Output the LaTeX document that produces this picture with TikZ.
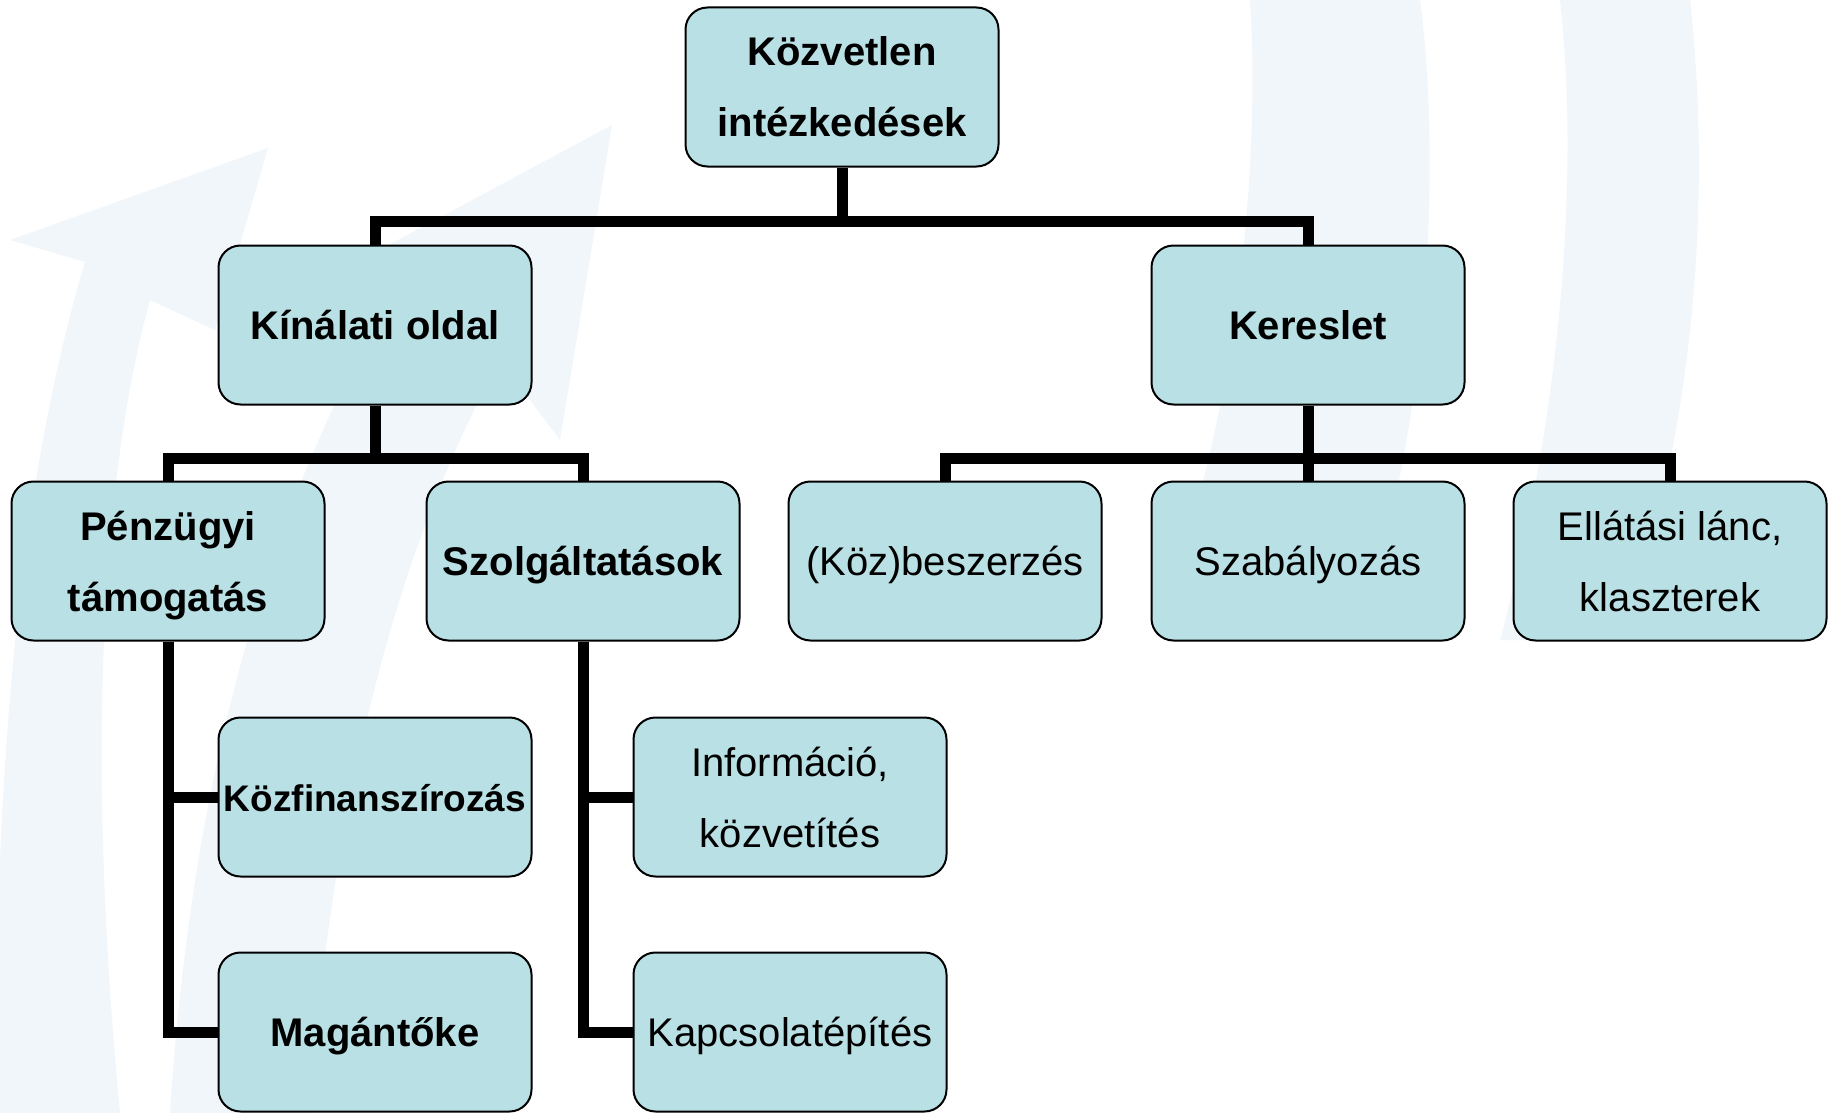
\documentclass[tikz,border=0pt]{standalone}
\usepackage{fontspec}
\setmainfont{Liberation Sans}
\definecolor{boxfill}{RGB}{185,224,228}
\definecolor{wm}{RGB}{241,246,251}
\begin{document}
\begin{tikzpicture}[x=1pt,y=-1pt,
  box/.style={draw=black, line width=2pt, fill=boxfill, rounded corners=22pt,
    minimum width=313pt, minimum height=159pt, inner sep=0pt, align=center,
    font=\fontsize{40}{71}\selectfont},
  bf/.style={font=\fontsize{40}{71}\selectfont\bfseries},
  one/.style={text height=28pt, text depth=0pt},
  two/.style={text height=100pt, text depth=0pt},
  conn/.style={line width=11pt, line join=miter}]
\fill[white] (0,0) rectangle (1833,1113);
\useasboundingbox (0,0) rectangle (1833,1113);
% faint background watermark arrows
\fill[wm] (-5,1113) .. controls (-5,760) and (20,480) .. (85,262) -- (10,240) -- (268,148)
  -- (215,330) -- (150,300) .. controls (95,500) and (90,800) .. (120,1113) -- cycle;
\fill[wm] (170,1113) .. controls (190,800) and (260,520) .. (390,300) -- (320,282) -- (612,125)
  -- (560,440) -- (500,360) .. controls (390,560) and (330,820) .. (310,1113) -- cycle;
\fill[wm] (1250,0) .. controls (1260,150) and (1240,380) .. (1180,560) -- (1380,560)
  .. controls (1430,380) and (1440,150) .. (1420,0) -- cycle;
\fill[wm] (1560,0) .. controls (1580,180) and (1560,420) .. (1500,640) -- (1620,640)
  .. controls (1700,420) and (1710,180) .. (1690,0) -- cycle;
% boxes
\node[box,bf,two] (top) at (842,87) {Közvetlen\\intézkedések};
\node[box,bf,one] (kin) at (375,325) {Kínálati oldal};
\node[box,bf,one] (ker) at (1308,325) {Kereslet};
\node[box,bf,two] (pz) at (168,561) {Pénzügyi\\támogatás};
\node[box,bf,one] (sz) at (583,561) {Szolgáltatások};
\node[box,one] (kozb) at (945,561) {(Köz)beszerzés};
\node[box,one] (szab) at (1308,561) {Szabályozás};
\node[box,two] (ell) at (1670,561) {Ellátási lánc,\\klaszterek};
\node[box,one,font=\fontsize{37}{71}\selectfont\bfseries] (kozf) at (375,797) {Közfinanszírozás};
\node[box,two] (info) at (790,797) {Információ,\\közvetítés};
\node[box,bf,one] (mag) at (375,1032) {Magántőke};
\node[box,one] (kap) at (790,1032) {Kapcsolatépítés};
% bus points
\coordinate (b1) at (842,221);
\coordinate (b2) at (375,458);
\coordinate (b3) at (1308,458);
% connectors
\draw[conn] (top.south) -- (b1);
\draw[conn] (kin.north) |- (b1) -| (ker.north);
\draw[conn] (kin.south) -- (b2);
\draw[conn] (pz.north) |- (b2) -| (sz.north);
\draw[conn] (ker.south) -- (szab.north);
\draw[conn] (kozb.north) |- (b3) -| (ell.north);
\draw[conn] (pz.south) |- (kozf.west);
\draw[conn] (pz.south) |- (mag.west);
\draw[conn] (sz.south) |- (info.west);
\draw[conn] (sz.south) |- (kap.west);
\end{tikzpicture}
\end{document}
